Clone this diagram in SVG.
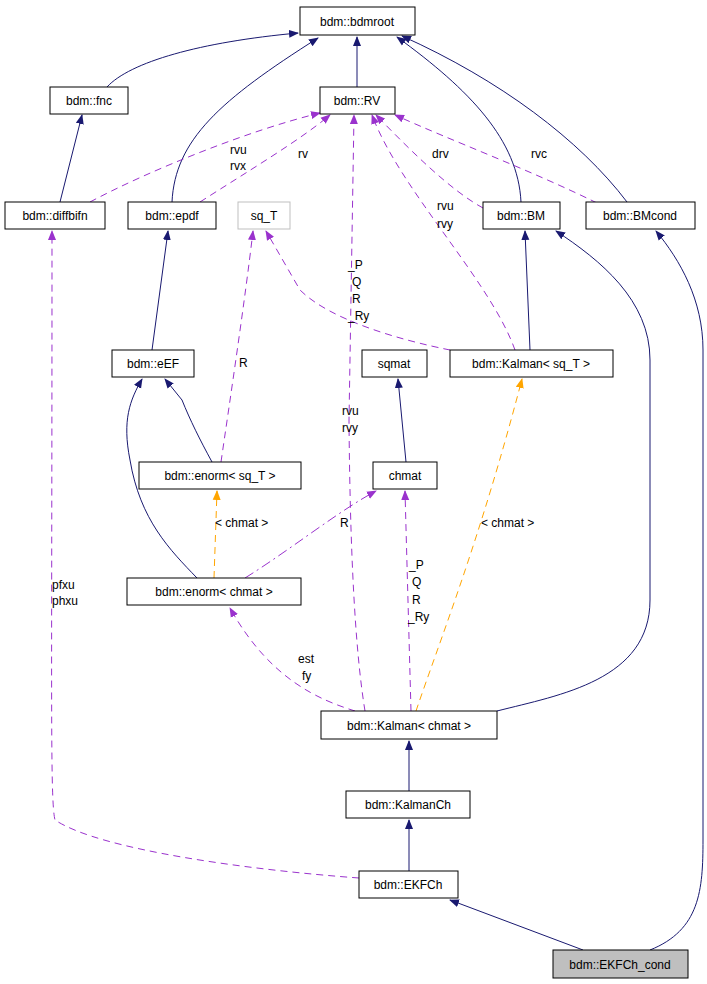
<svg xmlns="http://www.w3.org/2000/svg" width="707" height="984" viewBox="0 0 707 984">
<defs>
<marker id="an" markerWidth="10" markerHeight="10" refX="9" refY="5" orient="auto" markerUnits="userSpaceOnUse"><path d="M0,1 L10,5 L0,9 z" fill="#191970"/></marker>
<marker id="ap" markerWidth="10" markerHeight="10" refX="9" refY="5" orient="auto" markerUnits="userSpaceOnUse"><path d="M0,1 L10,5 L0,9 z" fill="#9a32cd"/></marker>
<marker id="ao" markerWidth="10" markerHeight="10" refX="9" refY="5" orient="auto" markerUnits="userSpaceOnUse"><path d="M0,1 L10,5 L0,9 z" fill="#ffa500"/></marker>
</defs>
<style>
rect{fill:#fff;stroke:#000;stroke-width:1}
text{font-family:"Liberation Sans",Arial,sans-serif;font-size:12px;fill:#000}
.n text{text-anchor:middle}
.i{fill:none;stroke:#191970;stroke-width:1;marker-end:url(#an)}
.u{fill:none;stroke:#9a32cd;stroke-width:1;stroke-dasharray:7,5;marker-end:url(#ap)}
.t{fill:none;stroke:#ffa500;stroke-width:1;stroke-dasharray:7,5;marker-end:url(#ao)}
</style>
<rect x="0" y="0" width="707" height="984" style="stroke:none"/>
<g id="edges">
<path class="i" d="M107,87 C130,62 200,42 298,33"/>
<path class="i" d="M172,202 C175,140 220,100 318,38"/>
<path class="i" d="M357,87 L357,37"/>
<path class="i" d="M521,202 C518,140 470,90 397,37"/>
<path class="i" d="M627,202 C580,140 500,80 402,36"/>
<path class="i" d="M60,202 L82,115"/>
<path class="i" d="M152,350 L168,231"/>
<path class="i" d="M530,350 L525,231"/>
<path class="i" d="M497,711 C560,695 650,680 650,600 L650,360 C650,300 600,260 556,231"/>
<path class="i" d="M650,950 C700,930 703,890 703,840 L703,350 C703,300 680,260 656,231"/>
<path class="i" d="M406,462 L398,379"/>
<path class="i" d="M212,462 C200,440 190,420 182,400 L165,379"/>
<path class="i" d="M197,578 C170,550 140,520 130,460 C122,420 130,400 142,379"/>
<path class="i" d="M409,791 L409,741"/>
<path class="i" d="M409,871 L409,820"/>
<path class="i" d="M583,950 L450,900"/>
<path class="t" d="M214,578 L217,491"/>
<path class="t" d="M416,711 C440,640 480,540 522,379"/>
<path class="u" d="M90,202 C150,170 250,130 320,113"/>
<path class="u" d="M200,202 C250,170 300,140 330,115"/>
<path class="u" d="M365,711 C355,650 350,550 349,420 L354,115"/>
<path class="u" d="M515,350 C490,280 400,190 372,115"/>
<path class="u" d="M450,350 C400,340 330,320 300,290 L266,231"/>
<path class="u" d="M221,462 C230,400 245,300 253,231"/>
<path class="u" d="M245,578 C290,550 340,510 376,491" style="stroke-dasharray:10,4,2,4"/>
<path class="u" d="M411,711 L405,491"/>
<path class="u" d="M355,711 C320,700 270,680 230,608"/>
<path class="u" d="M483,208 C450,190 410,150 376,115"/>
<path class="u" d="M597,203 C530,170 450,140 395,115"/>
<path class="u" d="M359,878 C250,870 100,850 55,820 C50,800 52,700 52,231"/>
</g>
<g id="labels">
<text x="230" y="154">rvu</text><text x="230" y="170">rvx</text>
<text x="298" y="158">rv</text>
<text x="348" y="269">_P</text><text x="352" y="286">Q</text><text x="352" y="303">R</text><text x="348" y="320">_Ry</text>
<text x="432" y="158">drv</text>
<text x="531" y="158">rvc</text>
<text x="437" y="210">rvu</text><text x="437" y="228">rvy</text>
<text x="239" y="367">R</text>
<text x="342" y="415">rvu</text><text x="342" y="432">rvy</text>
<text x="215" y="527">&lt; chmat &gt;</text>
<text x="340" y="527">R</text>
<text x="481" y="527">&lt; chmat &gt;</text>
<text x="52" y="589">pfxu</text><text x="52" y="605">phxu</text>
<text x="409" y="569">_P</text><text x="412" y="586">Q</text><text x="412" y="604">R</text><text x="408" y="621">_Ry</text>
<text x="298" y="663">est</text><text x="302" y="680">fy</text>
</g>
<g id="bdmroot" class="n"><rect x="300" y="7" width="115" height="28"/><text x="357" y="26">bdm::bdmroot</text></g>
<g id="fnc" class="n"><rect x="50" y="87" width="78" height="27"/><text x="89" y="105">bdm::fnc</text></g>
<g id="RV" class="n"><rect x="320" y="87" width="75" height="27"/><text x="357" y="105">bdm::RV</text></g>
<g id="diffbifn" class="n"><rect x="5" y="202" width="100" height="27"/><text x="55" y="220">bdm::diffbifn</text></g>
<g id="epdf" class="n"><rect x="128" y="202" width="88" height="27"/><text x="172" y="220">bdm::epdf</text></g>
<g id="sq_T" class="n"><rect x="238" y="202" width="52" height="27" style="stroke:#bfbfbf"/><text x="264" y="220">sq_T</text></g>
<g id="BM" class="n"><rect x="483" y="202" width="77" height="27"/><text x="521" y="220">bdm::BM</text></g>
<g id="BMcond" class="n"><rect x="586" y="202" width="109" height="27"/><text x="640" y="220">bdm::BMcond</text></g>
<g id="eEF" class="n"><rect x="112" y="350" width="82" height="27"/><text x="153" y="368">bdm::eEF</text></g>
<g id="sqmat" class="n"><rect x="362" y="350" width="65" height="27"/><text x="394" y="368">sqmat</text></g>
<g id="Kalman_sqT" class="n"><rect x="450" y="350" width="163" height="27"/><text x="531" y="368">bdm::Kalman&lt; sq_T &gt;</text></g>
<g id="enorm_sqT" class="n"><rect x="139" y="462" width="162" height="27"/><text x="220" y="480">bdm::enorm&lt; sq_T &gt;</text></g>
<g id="chmat" class="n"><rect x="373" y="462" width="64" height="27"/><text x="405" y="480">chmat</text></g>
<g id="enorm_chmat" class="n"><rect x="127" y="578" width="174" height="27"/><text x="214" y="596">bdm::enorm&lt; chmat &gt;</text></g>
<g id="Kalman_chmat" class="n"><rect x="321" y="711" width="176" height="28"/><text x="409" y="730">bdm::Kalman&lt; chmat &gt;</text></g>
<g id="KalmanCh" class="n"><rect x="346" y="791" width="124" height="27"/><text x="408" y="809">bdm::KalmanCh</text></g>
<g id="EKFCh" class="n"><rect x="359" y="871" width="99" height="27"/><text x="408" y="889">bdm::EKFCh</text></g>
<g id="EKFCh_cond" class="n"><rect x="553" y="950" width="135" height="28" style="fill:#bfbfbf"/><text x="620" y="969">bdm::EKFCh_cond</text></g>
</svg>
